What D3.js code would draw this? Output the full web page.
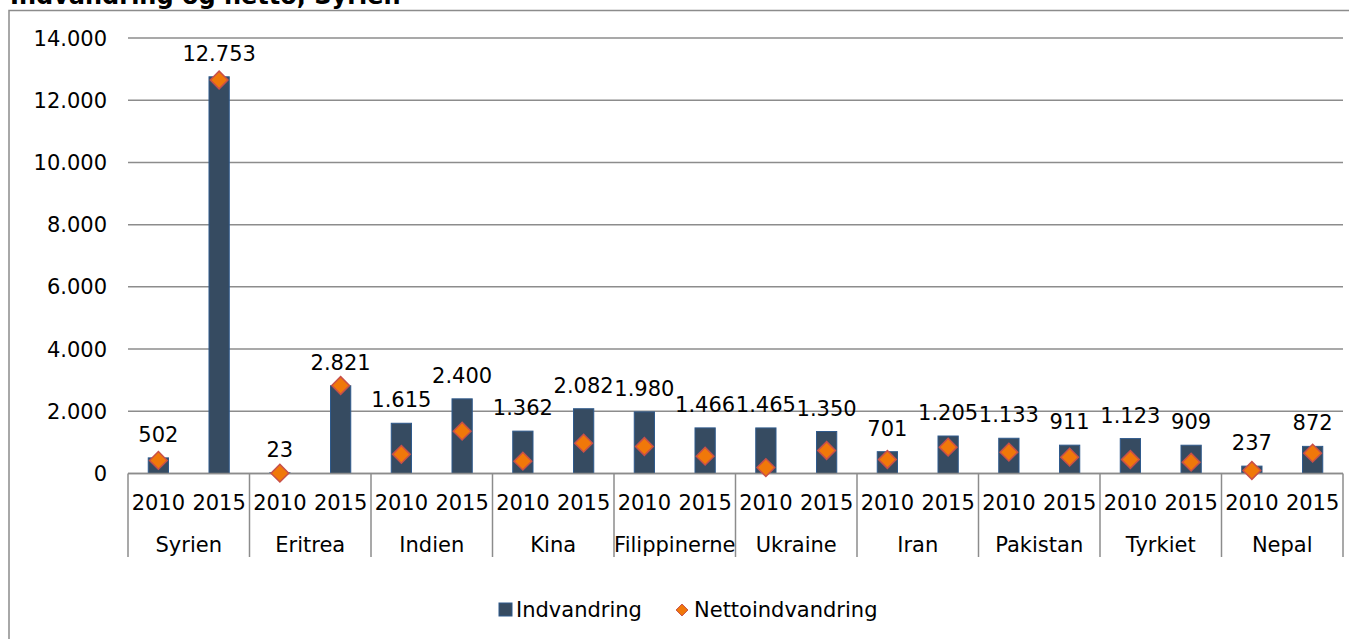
<!DOCTYPE html>
<html>
<head>
<meta charset="utf-8">
<script src="https://cdn.jsdelivr.net/npm/d3@7"></script>
<style>
  body { margin: 0; background: #fff; }
  svg text { font-family: "DejaVu Sans", Verdana, sans-serif; fill: #000; }
</style>
</head>
<body>
<div id="chart"></div>
<script>
// countries and years on the two-level x axis
var countries = ["Syrien", "Eritrea", "Indien", "Kina", "Filippinerne", "Ukraine", "Iran", "Pakistan", "Tyrkiet", "Nepal"];
var years = ["2010", "2015"];

// Indvandring (bars), per country: [2010, 2015]
var indvandring = [
  [502, 12753], [23, 2821], [1615, 2400], [1362, 2082], [1980, 1466],
  [1465, 1350], [701, 1205], [1133, 911], [1123, 909], [237, 872]
];

// Nettoindvandring (diamonds)
var netto = [
  [420, 12650], [10, 2830], [615, 1360], [396, 975], [869, 557],
  [190, 740], [450, 847], [686, 525], [450, 365], [97, 654]
];

var yTicks = [0, 2000, 4000, 6000, 8000, 10000, 12000, 14000];

var width = 1349, height = 639,
    margin = { top: 38, right: 6, bottom: 166, left: 128 },
    fontSize = "21px",
    barFill = "#364b61", barStroke = "#2f5a8c",
    dotFill = "#f0780a", dotStroke = "#c8504a",
    gridColour = "#8c8c8c";

var fmt = function(v) { return d3.format(",")(v).replace(/,/g, "."); };

var svg = d3.select("#chart").append("svg")
    .attr("width", width)
    .attr("height", height);

// title, cut off at the top edge in the original too
svg.append("text")
    .attr("x", 10).attr("y", 4)
    .style("font-size", "24px").style("font-weight", "bold")
    .text("Indvandring og netto, Syrien");

// chart border
svg.append("rect")
    .attr("x", 9).attr("y", 10.5)
    .attr("width", width + 10).attr("height", height + 10)
    .attr("fill", "none").attr("stroke", gridColour).attr("stroke-width", 1.5);

var x0 = d3.scaleBand().domain(countries)
    .range([margin.left, width - margin.right]);
var x1 = d3.scaleBand().domain(years).range([0, x0.bandwidth()]);
var barW = x1.bandwidth() / 3;

var y = d3.scaleLinear().domain([0, 14000])
    .range([height - margin.bottom + 0.5, margin.top]);

// gridlines
var g = svg.append("g");
g.selectAll("line.grid").data(yTicks).enter().append("line")
    .attr("class", "grid")
    .attr("x1", margin.left).attr("x2", width - margin.right)
    .attr("y1", function(d) { return y(d); }).attr("y2", function(d) { return y(d); })
    .attr("stroke", gridColour).attr("stroke-width", 1.5);

// y labels
g.selectAll("text.ylab").data(yTicks).enter().append("text")
    .attr("class", "ylab")
    .attr("x", 107).attr("y", function(d) { return y(d); })
    .attr("dy", "0.36em")
    .attr("text-anchor", "end")
    .style("font-size", fontSize)
    .text(fmt);

// flatten into points
var points = [];
countries.forEach(function(c, i) {
  years.forEach(function(yr, j) {
    points.push({ country: c, year: yr, v: indvandring[i][j], n: netto[i][j] });
  });
});
function cx(d) { return x0(d.country) + x1(d.year) + x1.bandwidth() / 2; }

// bars
svg.append("g").selectAll("rect").data(points).enter().append("rect")
    .attr("x", function(d) { return cx(d) - barW / 2; })
    .attr("y", function(d) { return y(d.v); })
    .attr("width", barW)
    .attr("height", function(d) { return y(0) - y(d.v); })
    .attr("fill", barFill).attr("stroke", barStroke).attr("stroke-width", 1);

// x axis base line over bar bottoms
svg.append("line")
    .attr("x1", margin.left).attr("x2", width - margin.right)
    .attr("y1", y(0)).attr("y2", y(0))
    .attr("stroke", gridColour).attr("stroke-width", 1.5);

// diamonds
var diamond = d3.symbol().type(d3.symbolDiamond2).size(200);
svg.append("g").selectAll("path").data(points).enter().append("path")
    .attr("transform", function(d) { return "translate(" + cx(d) + "," + y(d.n) + ")"; })
    .attr("d", diamond)
    .attr("fill", dotFill).attr("stroke", dotStroke).attr("stroke-width", 1.5);

// data labels
svg.append("g").selectAll("text").data(points).enter().append("text")
    .attr("x", cx)
    .attr("y", function(d) { return y(d.v) - 16; })
    .attr("text-anchor", "middle")
    .style("font-size", fontSize)
    .text(function(d) { return fmt(d.v); });

// category separators
var seps = countries.map(function(c) { return x0(c); }).concat([width - margin.right]);
svg.append("g").selectAll("line").data(seps).enter().append("line")
    .attr("x1", function(d) { return d; }).attr("x2", function(d) { return d; })
    .attr("y1", y(0)).attr("y2", 557)
    .attr("stroke", gridColour).attr("stroke-width", 1.5);

// year labels
svg.append("g").selectAll("text").data(points).enter().append("text")
    .attr("x", cx).attr("y", 510)
    .attr("text-anchor", "middle")
    .style("font-size", fontSize)
    .text(function(d) { return d.year; });

// country labels
svg.append("g").selectAll("text").data(countries).enter().append("text")
    .attr("x", function(d) { return x0(d) + x0.bandwidth() / 2; }).attr("y", 552)
    .attr("text-anchor", "middle")
    .style("font-size", fontSize)
    .text(function(d) { return d; });

// legend
var leg = svg.append("g");
leg.append("rect")
    .attr("x", 499).attr("y", 603).attr("width", 13).attr("height", 13)
    .attr("fill", barFill).attr("stroke", barStroke);
leg.append("text").attr("x", 516).attr("y", 617)
    .style("font-size", fontSize).text("Indvandring");
leg.append("path")
    .attr("transform", "translate(682,610)")
    .attr("d", d3.symbol().type(d3.symbolDiamond2).size(90))
    .attr("fill", dotFill).attr("stroke", dotStroke).attr("stroke-width", 1);
leg.append("text").attr("x", 694).attr("y", 617)
    .style("font-size", fontSize).text("Nettoindvandring");
</script>
</body>
</html>
